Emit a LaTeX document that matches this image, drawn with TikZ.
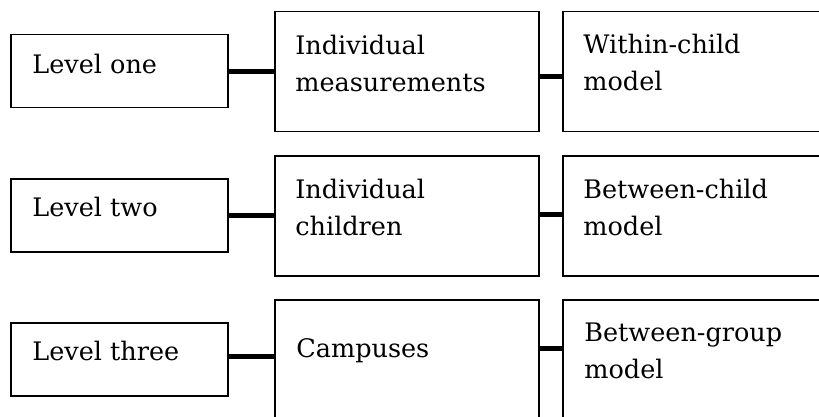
\documentclass[tikz,border=0pt]{standalone}
\usepackage{fontspec}
\setmainfont{DejaVu Serif}
\usetikzlibrary{positioning}
\definecolor{LineClr}{rgb}{0,0,0}

\begin{document}
\begin{tikzpicture}[x=1pt,y=-1pt,
  BoxShape/.style={draw=LineClr,line width=1.6pt,rectangle,inner sep=0pt},
  LvlBox/.style={BoxShape,minimum width=217pt,minimum height=73pt},
  BigBox/.style={BoxShape,minimum width=264pt,minimum height=120pt},
  BoxText/.style={inner sep=0pt,align=left,anchor=north west,font=\fontsize{25.5}{37}\selectfont},
  Link/.style={draw=LineClr,line width=5pt}]
\clip (0,0) rectangle (819,416);

% level boxes
\node[LvlBox] (L1) at (119.5,71) {};
\node[LvlBox] (L2) at (119.5,215.5) {};
\node[LvlBox] (L3) at (119.5,359.5) {};

% unit boxes
\node[BigBox] (U1) at (407,71.5) {};
\node[BigBox] (U2) at (407,216) {};
\node[BigBox] (U3) at (407,360) {};

% model boxes, cut off at the right
\node[BigBox] (M1) at (695,71.5) {};
\node[BigBox] (M2) at (695,216) {};
\node[BigBox] (M3) at (695,360) {};

\node[BoxText,below right=20pt and 22pt of L1.north west] (L1t) {Level one};
\node[BoxText,below right=19pt and 22pt of L2.north west] (L2t) {Level two};
\node[BoxText,below right=19pt and 22pt of L3.north west] (L3t) {Level three};

\node[BoxText,below right=24pt and 21pt of U1.north west] (U1t) {Individual\\measurements};
\node[BoxText,below right=24pt and 21pt of U2.north west] (U2t) {Individual\\children};
\node[BoxText,below right=39pt and 22pt of U3.north west] (U3t) {Campuses};

\node[BoxText,below right=23pt and 21pt of M1.north west] (M1t) {Within-child\\model};
\node[BoxText,below right=24pt and 21pt of M2.north west] (M2t) {Between-child\\model};
\node[BoxText,below right=24pt and 22pt of M3.north west] (M3t) {Between-group\\model};

\draw[Link] (L1.east) -- (L1.east -| U1.west);
\draw[Link] (L2.east) -- (L2.east -| U2.west);
\draw[Link] ([yshift=3.5pt]L3.east) -- ([yshift=3.5pt]L3.east -| U3.west);

\draw[Link] ([yshift=-5pt]U1.east) -- ([yshift=-5pt]U1.east -| M1.west);
\draw[Link] ([yshift=2pt]U2.east) -- ([yshift=2pt]U2.east -| M2.west);
\draw[Link] ([yshift=12pt]U3.east) -- ([yshift=12pt]U3.east -| M3.west);

\end{tikzpicture}
\end{document}
